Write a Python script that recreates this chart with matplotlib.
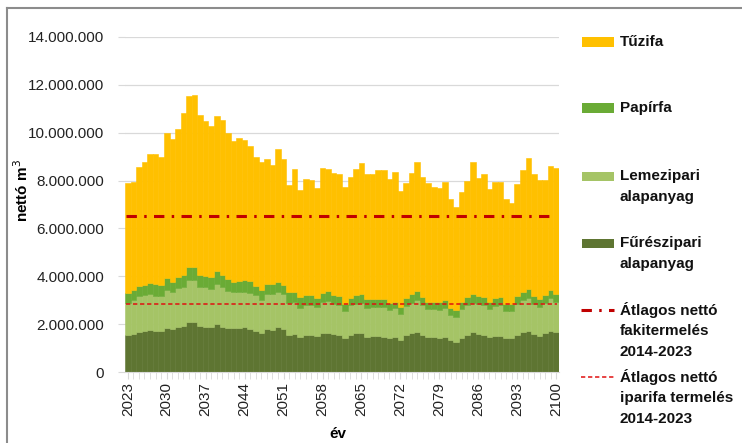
import numpy as np
import matplotlib
matplotlib.use("Agg")
from matplotlib import pyplot as plt
from matplotlib.lines import Line2D
from matplotlib.patches import Rectangle
from matplotlib.ticker import FuncFormatter, MultipleLocator

plt.rcParams['font.family'] = ['Liberation Sans', 'DejaVu Sans']

years = list(range(2023, 2101))

# nettó ezer m3 per category
furesz = [1550, 1600, 1690, 1720, 1740, 1720, 1720, 1830, 1790, 1870,
          1920, 2070, 2070, 1930, 1890, 1870, 1990, 1890, 1830, 1830,
          1830, 1860, 1800, 1710, 1640, 1790, 1760, 1860, 1780, 1550,
          1590, 1480, 1550, 1550, 1510, 1620, 1620, 1580, 1550, 1410,
          1550, 1620, 1640, 1480, 1510, 1510, 1480, 1410, 1480, 1340,
          1550, 1620, 1690, 1550, 1450, 1450, 1440, 1480, 1340, 1270,
          1410, 1550, 1660, 1580, 1550, 1450, 1510, 1510, 1410, 1410,
          1550, 1660, 1730, 1590, 1510, 1620, 1730, 1660]
lemez = [1350, 1410, 1490, 1500, 1500, 1470, 1470, 1600, 1540, 1630,
         1620, 1770, 1770, 1630, 1650, 1600, 1690, 1650, 1550, 1500,
         1530, 1500, 1490, 1490, 1360, 1470, 1500, 1470, 1480, 1320,
         1320, 1210, 1250, 1230, 1190, 1290, 1350, 1250, 1250, 1130,
         1240, 1220, 1230, 1210, 1220, 1220, 1250, 1180, 1180, 1080,
         1210, 1280, 1320, 1250, 1180, 1180, 1150, 1210, 1040, 1010,
         1210, 1240, 1210, 1250, 1250, 1170, 1250, 1270, 1120, 1120,
         1290, 1350, 1370, 1250, 1190, 1250, 1350, 1280]
papir = [390, 420, 430, 410, 470, 470, 440, 490, 440, 480,
         510, 560, 560, 490, 470, 510, 540, 510, 490, 440,
         440, 480, 510, 410, 430, 400, 400, 440, 390, 460,
         450, 430, 420, 420, 400, 400, 410, 390, 380, 310,
         290, 360, 390, 340, 320, 320, 320, 280, 280, 280,
         320, 360, 390, 350, 310, 310, 320, 320, 280, 300,
         320, 330, 390, 350, 320, 320, 320, 340, 310, 310,
         340, 350, 350, 340, 350, 330, 350, 320]
tuzifa = [4610, 4500, 4970, 5160, 5400, 5430, 5340, 6080, 5950, 6160,
          6790, 7130, 7170, 6690, 6490, 6300, 6480, 6480, 6130, 5880,
          5960, 5860, 5640, 5360, 5360, 5260, 4990, 5540, 5270, 4470,
          5110, 4500, 4840, 4820, 4590, 5230, 5090, 5080, 5080, 4870,
          5080, 5280, 5490, 5230, 5210, 5390, 5390, 5180, 5430, 4860,
          4810, 5040, 5390, 5010, 4950, 4780, 4760, 4920, 4570, 4320,
          4600, 4860, 5500, 4910, 5140, 4710, 4850, 4810, 4390, 4210,
          4680, 5080, 5510, 5080, 4970, 4820, 5190, 5250]

atlag_fakitermeles = 6530
atlag_iparifa = 2840

W, H = 742, 443
fig = plt.figure(figsize=(W / 100, H / 100), dpi=100)
ax = fig.add_axes([125 / W, 1 - 372 / H, 434 / W, 335 / H])

x = np.array(years)
layers = [
    (furesz, '#5E7532'),
    (lemez, '#A5C466'),
    (papir, '#6AAB35'),
    (tuzifa, '#FFC000'),
]
bottom = np.zeros(len(years))
for vals, color in layers:
    v = np.array(vals) * 1000
    ax.bar(x, v, width=1.0, bottom=bottom, color=color, edgecolor=color,
           linewidth=0.4, zorder=2)
    bottom += v

ax.plot([years[0] - 0.3, years[-1] - 0.3], [atlag_fakitermeles * 1000] * 2,
        color='#C00000', lw=2.2, dashes=(3.4, 2.4, 0.8, 2.4), zorder=3)
ax.plot([years[0] - 0.3, years[-1] + 0.2], [atlag_iparifa * 1000] * 2,
        color='#E01010', lw=1.1, dashes=(2.8, 1.8), zorder=3)

ax.set_xlim(years[0] - 0.5, years[-1] + 0.5)
ax.set_ylim(0, 14000000)
ax.yaxis.set_major_locator(MultipleLocator(2000000))
ax.yaxis.set_major_formatter(FuncFormatter(lambda v, p: f"{int(v):,}".replace(',', '.')))
ax.set_xticks(years[::7])
ax.set_xticks(years, minor=True)
ax.tick_params(axis='x', which='major', rotation=90, labelsize=11, length=5,
               color='#D9D9D9', labelcolor='#222222', pad=2)
ax.tick_params(axis='x', which='minor', length=5, color='#D9D9D9')
ax.tick_params(axis='y', labelsize=11, length=5, color='#D9D9D9',
               labelcolor='#222222', pad=10)
ax.grid(axis='y', color='#D9D9D9', lw=0.9, zorder=0)
for s in ['top', 'right', 'left']:
    ax.spines[s].set_visible(False)
ax.spines['bottom'].set_color('#D9D9D9')

fig.text(22 / W, 1 - 190 / H, 'nettó m$^3$', rotation=90, ha='center', va='center',
         fontsize=11, fontweight='bold')
fig.text(338 / W, 1 - 434 / H, 'év', ha='center', va='center',
         fontsize=11, fontweight='bold')

# legend, drawn by hand
def fx(px):
    return px / W


def fy(py):
    return 1 - py / H


legend_rows = [
    ('patch', '#FFC000', None, 42, ['Tűzifa']),
    ('patch', '#6AAB35', None, 108, ['Papírfa']),
    ('patch', '#A5C466', None, 176, ['Lemezipari', 'alapanyag']),
    ('patch', '#5E7532', None, 243, ['Fűrészipari', 'alapanyag']),
    ('line', '#C00000', (3.4, 2.4, 0.8, 2.4), 310, ['Átlagos nettó', 'fakitermelés', '2014-2023']),
    ('line', '#E01010', (2.8, 1.8), 377, ['Átlagos nettó', 'iparifa termelés', '2014-2023']),
]
for kind, color, dashes, ypx, lines in legend_rows:
    if kind == 'patch':
        fig.add_artist(Rectangle((fx(582), fy(ypx + 4.5)), 32 / W, 9 / H,
                                 transform=fig.transFigure, color=color, lw=0))
    else:
        lw = 2.2 if len(dashes) == 4 else 1.1
        fig.add_artist(Line2D([fx(581), fx(614)], [fy(ypx), fy(ypx)],
                              transform=fig.transFigure, color=color, lw=lw, dashes=dashes))
    for i, t in enumerate(lines):
        fig.text(fx(620), fy(ypx + i * 21), t, ha='left', va='center',
                 fontsize=11, fontweight='bold', color='#111111')

# outer chart frame (top and left edges visible)
fig.add_artist(Line2D([fx(7), fx(7)], [fy(8), 0], transform=fig.transFigure,
                      color='#8C8C8C', lw=1.5))
fig.add_artist(Line2D([fx(7), 1], [fy(8), fy(8)], transform=fig.transFigure,
                      color='#8C8C8C', lw=1.5))

fig.savefig('out.png', dpi=100)
